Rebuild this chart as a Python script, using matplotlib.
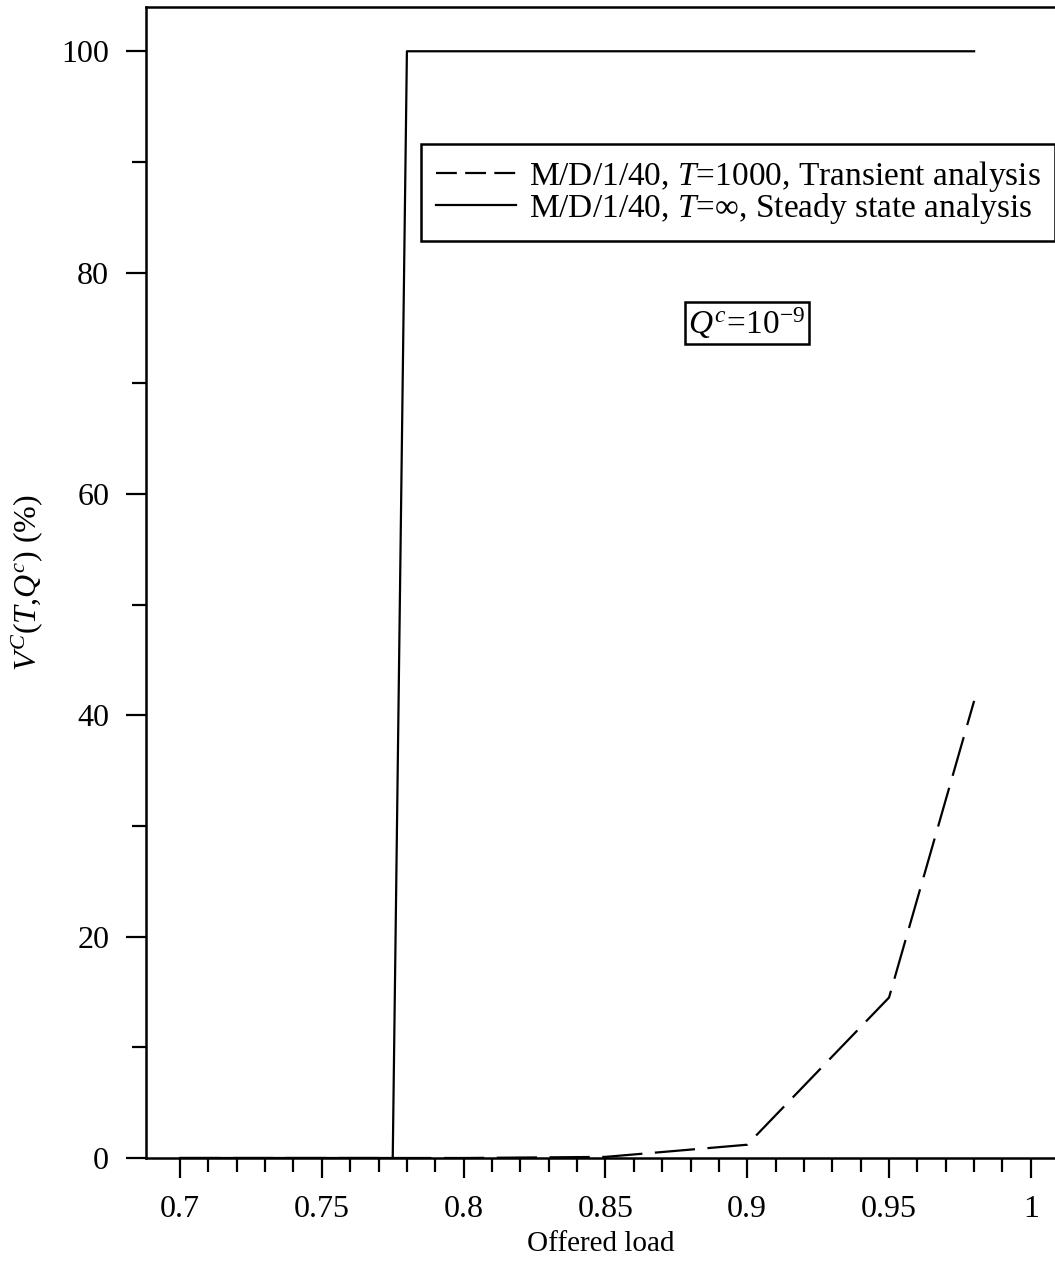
import matplotlib
matplotlib.use('Agg')
import matplotlib.pyplot as plt
from matplotlib.lines import Line2D
from matplotlib.ticker import MultipleLocator, FormatStrFormatter

# Serif text everywhere, mathtext uses the same family for italics
plt.rcParams['font.family'] = 'Liberation Serif'
plt.rcParams['mathtext.fontset'] = 'custom'
plt.rcParams['mathtext.rm'] = 'Liberation Serif'
plt.rcParams['mathtext.it'] = 'Liberation Serif:italic'
plt.rcParams['lines.scale_dashes'] = False

# Transient analysis, T = 1000
load_transient = [0.70, 0.75, 0.80, 0.85, 0.90, 0.95, 0.98]
v_transient = [0.0, 0.0, 0.0, 0.1, 1.2, 14.5, 41.3]

# Steady state analysis, T = infinity
load_steady = [0.70, 0.775, 0.78, 0.98]
v_steady = [0.0, 0.0, 100.0, 100.0]

label_transient = r'M/D/1/40, $T$=1000, Transient analysis'
label_steady = r'M/D/1/40, $T$=∞, Steady state analysis'

fig = plt.figure(figsize=(10.55, 12.62), dpi=100)
ax = fig.add_axes([146 / 1055, 104 / 1262, 909 / 1055, 1151 / 1262])

ax.plot(load_transient, v_transient, color='black', lw=1.6, dashes=(29, 9))
ax.plot(load_steady, v_steady, color='black', lw=1.6)

ax.set_xlim(0.688, 0.688 + 909 / 2836)
ax.set_ylim(0, 104)

ax.xaxis.set_major_locator(MultipleLocator(0.05))
ax.set_xticks([0.70 + 0.01 * i for i in range(31)], minor=True)
ax.xaxis.set_major_formatter(FormatStrFormatter('%g'))
ax.yaxis.set_major_locator(MultipleLocator(20))
ax.yaxis.set_minor_locator(MultipleLocator(10))

ax.tick_params(which='both', direction='out', width=1.6, top=False, right=False,
               labelsize=23)
ax.tick_params(which='major', length=14.5, pad=12)
ax.tick_params(which='minor', length=10)

ax.spines['right'].set_visible(False)
for side in ['left', 'bottom', 'top']:
    ax.spines[side].set_linewidth(1.8)

ax.set_xlabel('Offered load', fontsize=21, labelpad=5)
ax.set_ylabel(r'$V^{C}(T{,}Q^{c})$ (%)', fontsize=23, labelpad=12)

# Legend uses shorter dashes in its sample line
handles = [Line2D([], [], color='black', lw=1.6, dashes=(15, 6)),
           Line2D([], [], color='black', lw=1.6)]
leg = ax.legend(handles, [label_transient, label_steady], loc='upper left',
                bbox_to_anchor=(421 / 1055, 1 - 144 / 1262),
                bbox_transform=fig.transFigure, borderaxespad=0,
                fontsize=24, handlelength=2.4, handletextpad=0.38,
                labelspacing=-0.1, borderpad=0.45, fancybox=False,
                framealpha=1, edgecolor='black')
leg.get_frame().set_linewidth(1.8)

ax.text(747 / 1055, 1 - 323 / 1262, r'$Q^{c}\!=\!10^{-9}$', transform=fig.transFigure,
        fontsize=24, ha='center', va='center',
        bbox=dict(boxstyle='square,pad=0.1', fc='white', ec='black', lw=1.8))

fig.savefig('out.png', dpi=100)
